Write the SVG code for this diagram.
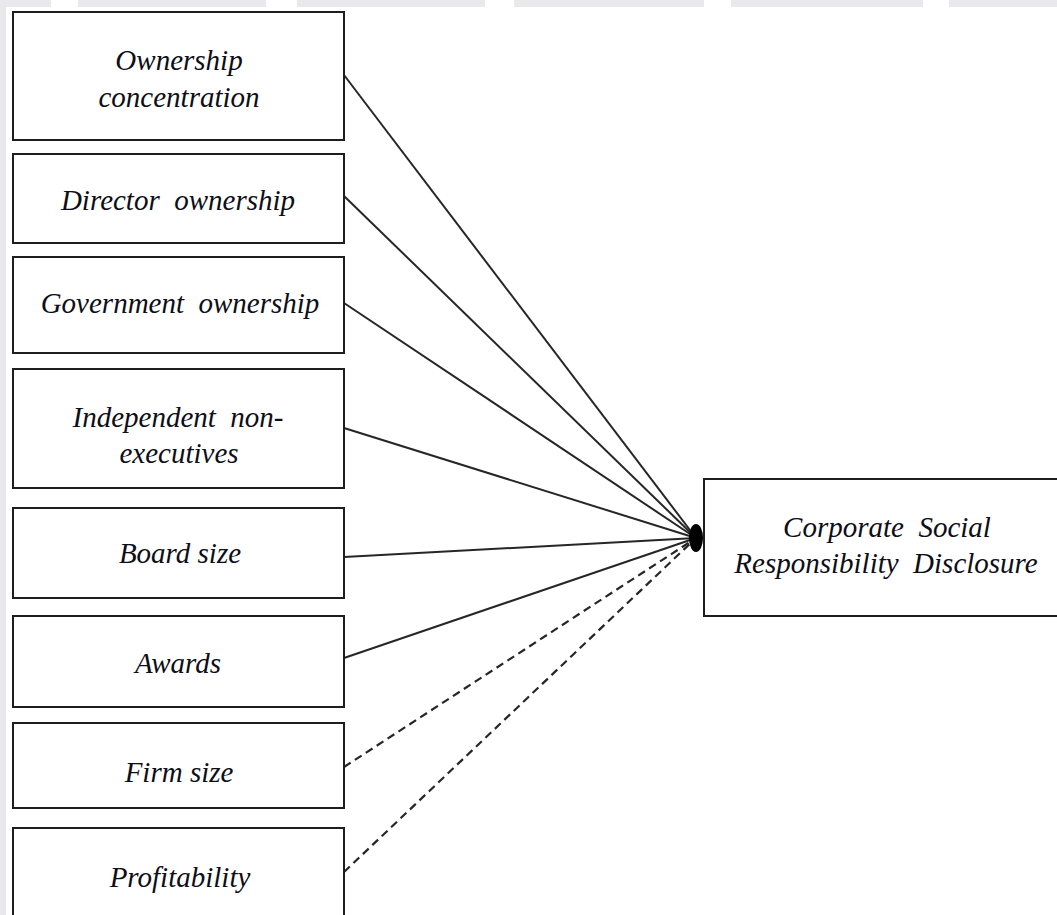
<svg xmlns="http://www.w3.org/2000/svg" width="1057" height="915" viewBox="0 0 1057 915">
  <style>
    .box { fill: #ffffff; stroke: #1e1e1e; stroke-width: 2; }
    .lbl { font-family: "Liberation Serif", "Times New Roman", serif; font-style: italic; font-size: 29px; fill: #0e0e18; text-anchor: middle; white-space: pre; }
    .link { stroke: #262626; stroke-width: 2; fill: none; }
    .dash { stroke-dasharray: 8 5; stroke-width: 2.2; }
    .band { fill: #e9e8ec; }
  </style>

  <!-- page background with faint edge bands -->
  <rect x="0" y="0" width="1057" height="915" fill="#ffffff"/>
  <g id="edge-bands">
    <rect class="band" x="0" y="0" width="51" height="7"/>
    <rect class="band" x="78" y="0" width="188" height="7"/>
    <rect class="band" x="297" y="0" width="188" height="7"/>
    <rect class="band" x="514" y="0" width="190" height="7"/>
    <rect class="band" x="731" y="0" width="192" height="7"/>
    <rect class="band" x="949" y="0" width="108" height="7"/>
    <rect class="band" x="0" y="0" width="6" height="915"/>
  </g>

  <!-- connectors from each factor to the disclosure node -->
  <g id="connectors">
    <line class="link" x1="344" y1="75" x2="696" y2="538"/>
    <line class="link" x1="344" y1="196" x2="696" y2="538"/>
    <line class="link" x1="344" y1="303" x2="696" y2="538"/>
    <line class="link" x1="344" y1="428" x2="696" y2="538"/>
    <line class="link" x1="344" y1="557" x2="696" y2="538"/>
    <line class="link" x1="344" y1="658" x2="696" y2="538"/>
    <line class="link dash" x1="344" y1="767" x2="696" y2="538"/>
    <line class="link dash" x1="344" y1="872" x2="696" y2="538"/>
    <ellipse cx="696" cy="538" rx="7" ry="14" fill="#000000"/>
  </g>

  <g id="ownership-concentration">
    <rect class="box" x="13" y="12" width="331" height="128"/>
    <text class="lbl" x="179" y="70">Ownership</text>
    <text class="lbl" x="179" y="107">concentration</text>
  </g>

  <g id="director-ownership">
    <rect class="box" x="13" y="154" width="331" height="89"/>
    <text class="lbl" x="178" y="210">Director  ownership</text>
  </g>

  <g id="government-ownership">
    <rect class="box" x="13" y="257" width="331" height="96"/>
    <text class="lbl" x="180" y="313">Government  ownership</text>
  </g>

  <g id="independent-non-executives">
    <rect class="box" x="13" y="369" width="331" height="119"/>
    <text class="lbl" x="178" y="427">Independent  non-</text>
    <text class="lbl" x="179" y="463">executives</text>
  </g>

  <g id="board-size">
    <rect class="box" x="13" y="508" width="331" height="90"/>
    <text class="lbl" x="180" y="563">Board size</text>
  </g>

  <g id="awards">
    <rect class="box" x="13" y="616" width="331" height="91"/>
    <text class="lbl" x="178" y="673">Awards</text>
  </g>

  <g id="firm-size">
    <rect class="box" x="13" y="723" width="331" height="85"/>
    <text class="lbl" x="179" y="782">Firm size</text>
  </g>

  <g id="profitability">
    <rect class="box" x="13" y="828" width="331" height="95"/>
    <text class="lbl" x="180" y="887">Profitability</text>
  </g>

  <g id="csr-disclosure">
    <rect class="box" x="704" y="479" width="364" height="137"/>
    <text class="lbl" x="887" y="537">Corporate  Social</text>
    <text class="lbl" x="886" y="573">Responsibility  Disclosure</text>
  </g>
</svg>
